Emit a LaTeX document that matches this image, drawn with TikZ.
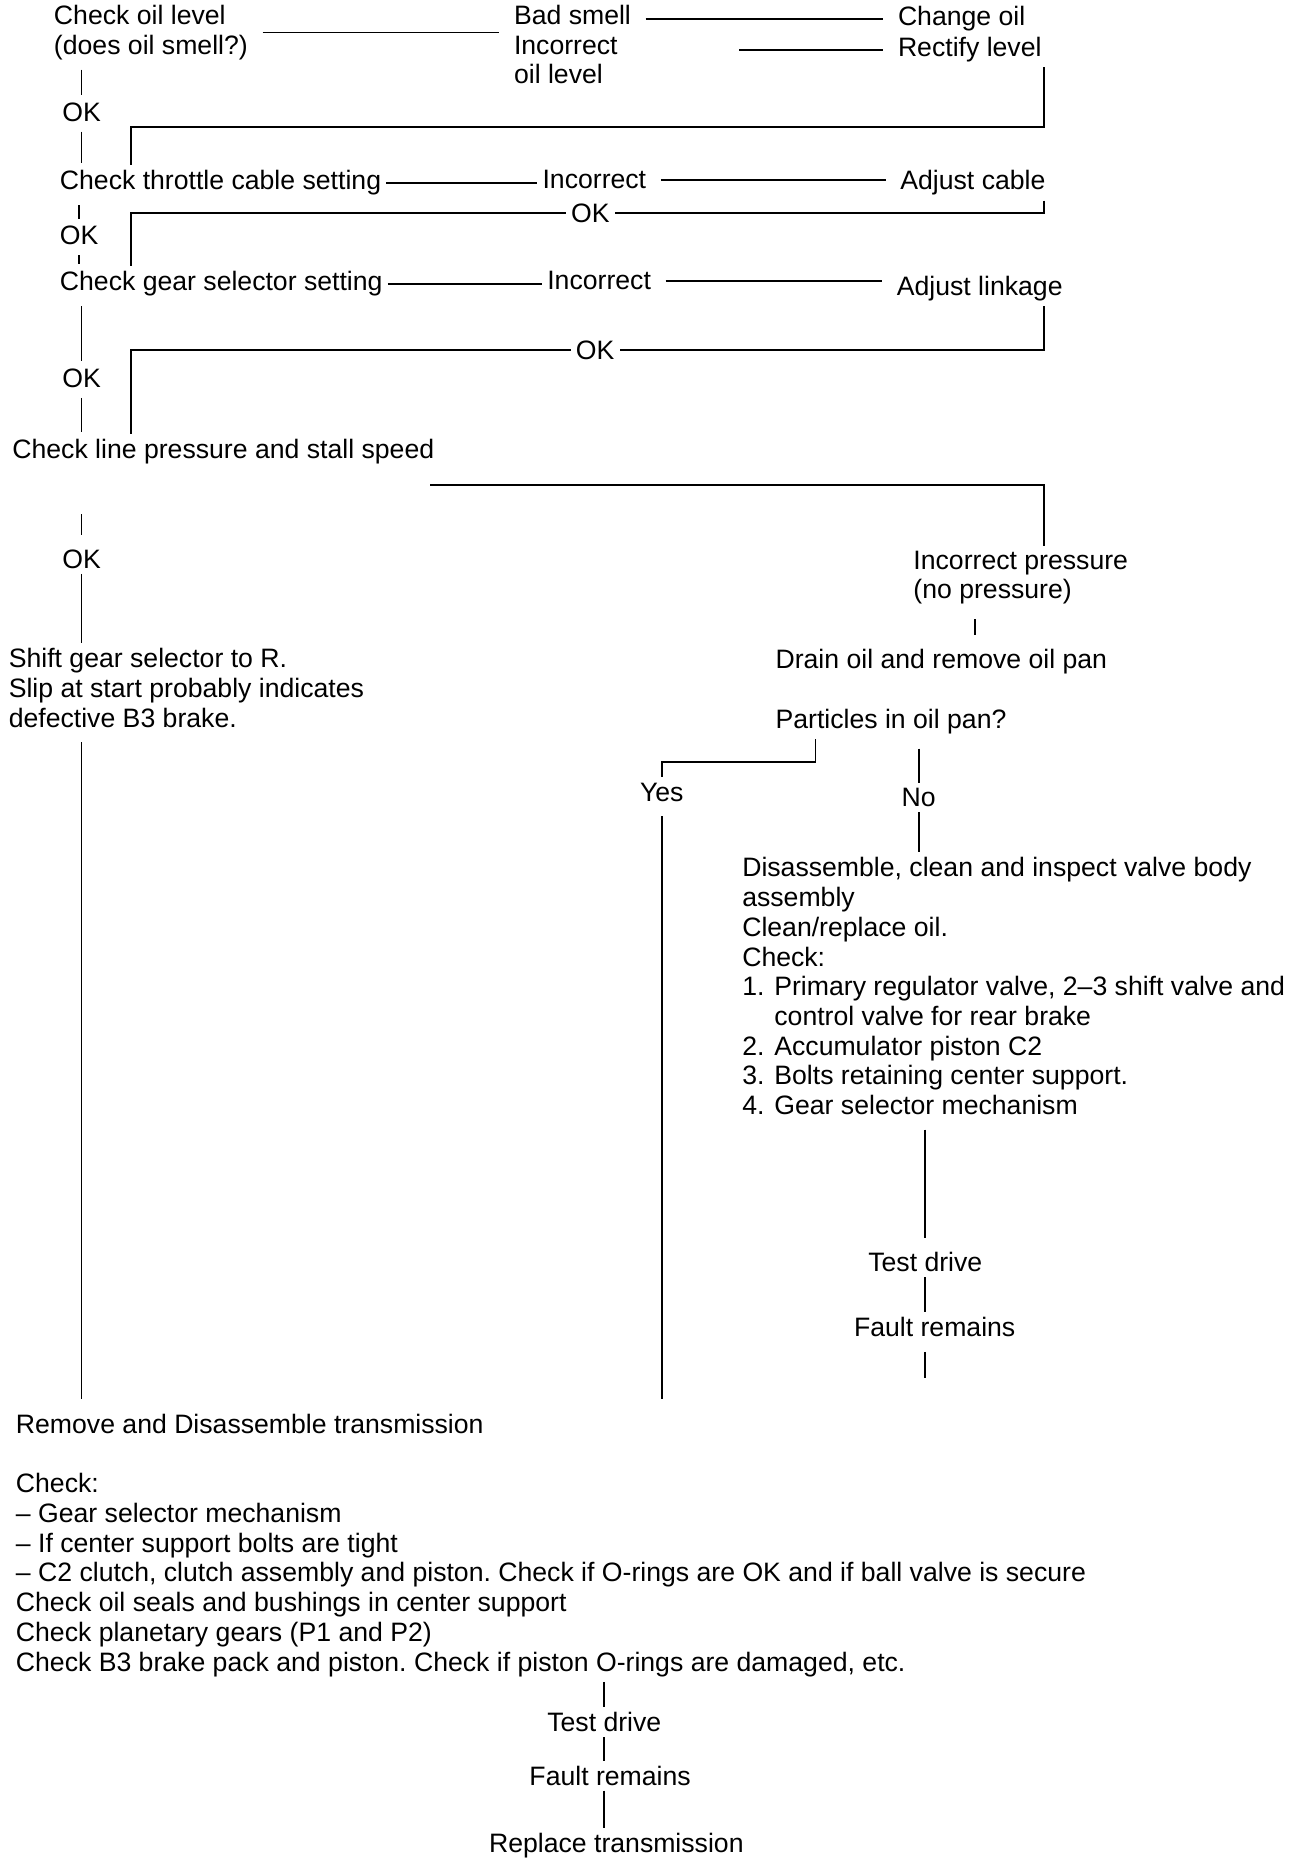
\documentclass[tikz,border=0pt]{standalone}
\usepackage{fontspec}
\setmainfont{Liberation Sans}
\usepackage{tikz}
\newcommand{\chartfont}{\fontsize{11.2}{12.5}\selectfont}
\frenchspacing

\begin{document}
\begin{tikzpicture}[x=0.5pt,y=-0.5pt,
    every node/.style={font=\chartfont,inner sep=2pt,anchor=north west,align=left},
    wire/.style={line width=0.8pt},
    link/.style={wire,shorten <=4pt,shorten >=4pt},
    tick/.style={wire,shorten <=2pt,shorten >=1pt}]
  \fill[white] (0,0) rectangle (1104,1568);
  \coordinate (lx) at (110,0);
  \coordinate (rx) at (878,0);
  \coordinate (dx) at (820,0);
  \coordinate (ir) at (614,0);
  \coordinate (back1) at (110,107);
  \coordinate (lpk) at (362,408);

  % oil level
  \node (chkoil) at (41,0) {Check oil level\\(does oil smell?)};
  \node (badsm) at (428,0) {Bad smell\\Incorrect\\oil level};
  \node (chgoil) at (751,1) {Change oil};
  \node (rectify) at (751,27) {Rectify level};
  \node (ok1) at (48,82) {OK};
  % throttle cable
  \node (throttle) at (46,139) {Check throttle cable setting};
  \node (inc1) at (452,139) {Incorrect};
  \node (adjc) at (753,139) {Adjust cable};
  \node (okc1) at (476,167) {OK};
  \node (ok2) at (46,186) {OK};
  % gear selector
  \node (gear) at (46,224) {Check gear selector setting};
  \node (inc2) at (456,224) {Incorrect};
  \node (adjl) at (750,228) {Adjust linkage};
  \node (okc2) at (480,282) {OK};
  \node (ok3) at (48,306) {OK};
  % line pressure
  \node (linep) at (6,365) {Check line pressure and stall speed};
  \node (ok4) at (48,458) {OK};
  \node (incp) at (764,459) {Incorrect pressure\\(no pressure)};
  \node (shift) at (3,541) {Shift gear selector to R.\\Slip at start probably indicates\\defective B3 brake.};
  \node (drain) at (648,542) {Drain oil and remove oil pan};
  \node (part) at (648,592) {Particles in oil pan?};
  \node (yes) at (534,654) {Yes};
  \node (no) at (754,659) {No};
  \node (dis) at (620,717) {Disassemble, clean and inspect valve body\\assembly\\Clean/replace oil.\\Check:\\\makebox[13.5pt][l]{1.}Primary regulator valve, 2--3 shift valve and\\\hspace*{13.5pt}control valve for rear brake\\\makebox[13.5pt][l]{2.}Accumulator piston C2\\\makebox[13.5pt][l]{3.}Bolts retaining center support.\\\makebox[13.5pt][l]{4.}Gear selector mechanism};
  \node (tdr1) at (726,1049) {Test drive};
  \node (flt1) at (714,1104) {Fault remains};
  % transmission
  \node (remove) at (9,1185) {Remove and Disassemble transmission};
  \node (chk) at (9,1235) {Check:\\-- Gear selector mechanism\\-- If center support bolts are tight\\-- C2 clutch, clutch assembly and piston. Check if O-rings are OK and if ball valve is secure\\Check oil seals and bushings in center support\\Check planetary gears (P1 and P2)\\Check B3 brake pack and piston. Check if piston O-rings are damaged, etc.};
  \node (tdr2) at (456,1436) {Test drive};
  \node (flt2) at (441,1481) {Fault remains};
  \node (repl) at (407,1538) {Replace transmission};

  % oil level links
  \draw[link] (chkoil.east) -- (chkoil.east -| badsm.west);
  \draw[link] (badsm.east |- chgoil.west) -- (chgoil.west);
  \draw[link] (ir |- rectify.west) -- (rectify.west);
  \draw[wire] (rx |- rectify.south) |- (back1) -- (back1 |- throttle.north);
  \draw[tick] (ok1.north |- chkoil.south) -- (ok1.north);
  \draw[tick] (ok1.south) -- (ok1.south |- throttle.north);
  % throttle links
  \draw[wire] (throttle.east) -- (throttle.east -| inc1.west);
  \draw[link] (inc1.east) -- (inc1.east -| adjc.west);
  \draw[wire] (rx |- adjc.south) |- (okc1.east);
  \draw[wire] (okc1.west) -| (lx |- gear.north);
  \draw[tick] (ok2.north |- throttle.south) -- (ok2.north);
  \draw[tick] (ok2.south) -- (ok2.south |- gear.north);
  % gear selector links
  \draw[wire] (gear.east) -- (gear.east -| inc2.west);
  \draw[link] (inc2.east) -- (inc2.east -| adjl.west);
  \draw[wire] (rx |- adjl.south) |- (okc2.east);
  \draw[wire] (okc2.west) -| (lx |- linep.north);
  \draw[tick] (ok3.north |- gear.south) -- (ok3.north);
  \draw[tick] (ok3.south) -- (ok3.south |- linep.north);
  % line pressure links
  \draw[wire] (lpk) -| (rx |- incp.north);
  \draw[link,shorten <=19pt] (ok4.north |- linep.south) -- (ok4.north);
  \draw[wire] (ok4.south) -- (ok4.south |- shift.north);
  \draw[link] (ok4.south |- shift.south) -- (ok4.south |- remove.north);
  \draw[link] (incp.south -| dx) -- (drain.north -| dx);
  \draw[wire] ([xshift=19pt]part.south west) -- ++(0,19) -| (yes.north);
  \draw[wire,shorten <=4pt] (no.north |- part.south) -- (no.north);
  \draw[wire] (no.south) -- (no.south |- dis.north);
  \draw[link] (yes.south) -- (yes.south |- remove.north);
  \draw[link] (tdr1.north |- dis.south) -- (tdr1.north);
  \draw[wire] (tdr1.south) -- (tdr1.south |- flt1.north);
  \draw[link,shorten >=13pt] (tdr1.south |- flt1.south) -- (tdr1.south |- remove.north);
  % transmission links
  \draw[wire] (tdr2.north |- chk.south) -- (tdr2.north);
  \draw[wire] (tdr2.south) -- (tdr2.south |- flt2.north);
  \draw[wire] (tdr2.south |- flt2.south) -- (tdr2.south |- repl.north);
\end{tikzpicture}
\end{document}
